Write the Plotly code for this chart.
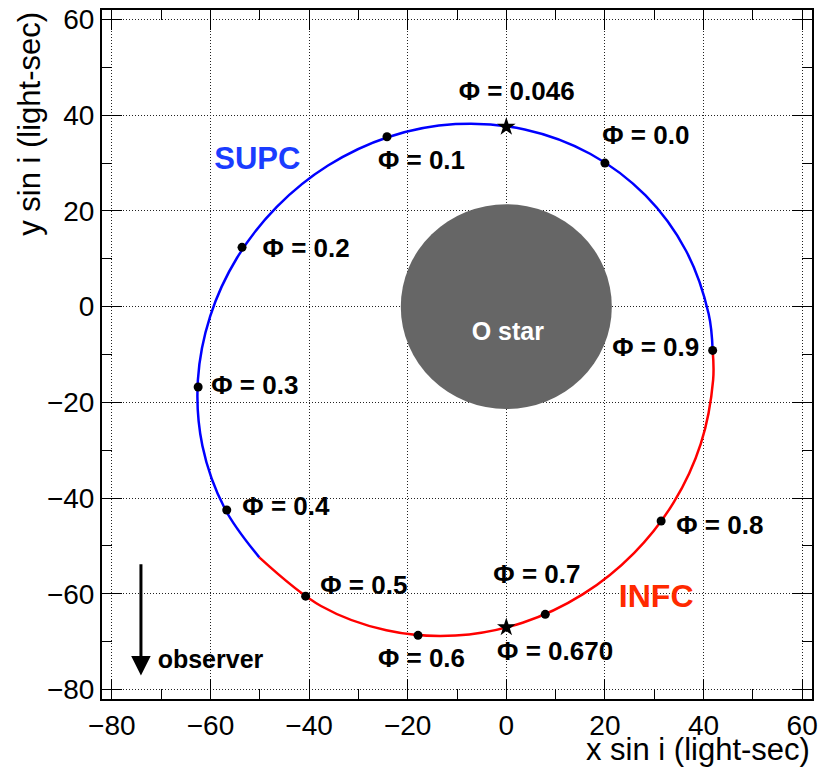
import plotly.graph_objects as go

# ---- data ----
phase_labels = ["Φ = 0.0", "Φ = 0.1", "Φ = 0.2", "Φ = 0.3", "Φ = 0.4", "Φ = 0.5",
                "Φ = 0.6", "Φ = 0.7", "Φ = 0.8", "Φ = 0.9"]
phase_x = [20.0, -24.2, -53.6, -62.5, -56.7, -40.7, -17.9, 7.9, 31.4, 41.85]
phase_y = [30.0, 35.5, 12.4, -16.8, -42.5, -60.5, -68.7, -64.3, -44.8, -9.15]
phase_lx = [28.3, -17.2, -40.6, -51.0, -44.7, -28.9, -17.2, 6.2, 43.3, 30.3]
phase_ly = [35.4, 30.2, 11.7, -16.8, -42.1, -58.8, -73.9, -56.3, -46.1, -9.0]

conj_labels = ["Φ = 0.046", "Φ = 0.670"]
conj_x = [0.0, 0.0]
conj_y = [37.6, -67.0]
conj_lx = [2.1, 9.9]
conj_ly = [44.5, -72.5]

# orbit, superior-conjunction half (blue)
supc_x = [41.85, 41.04, 36.45, 28.24, 16.99, 3.73, -10.3, -23.9, -36.16, -46.5,
          -54.58, -60.05, -62.55, -61.64, -57.05, -50.1]
supc_y = [-9.15, -1.54, 11.69, 23.24, 31.96, 37.04, 38.15, 35.46, 29.49, 20.9,
          10.27, -1.97, -15.3, -29.06, -42.29, -52.4]
# orbit, inferior-conjunction half (red)
infc_x = [-50.1, -37.59, -24.33, -10.3, 3.3, 15.56, 25.9, 33.98, 39.45, 41.95, 41.85]
infc_y = [-52.4, -62.56, -67.64, -68.75, -66.06, -60.09, -51.5, -40.87, -28.63, -15.3, -9.15]

ostar_radius = 21.4

FONT = "Liberation Sans, Arial, Helvetica, sans-serif"

fig = go.Figure()

# O star disc
fig.add_shape(type="circle", xref="x", yref="y",
              x0=-ostar_radius, x1=ostar_radius, y0=-ostar_radius, y1=ostar_radius,
              fillcolor="#666666", line=dict(color="#666666", width=0), layer="between")

fig.add_trace(go.Scatter(x=supc_x, y=supc_y, mode="lines",
                         line=dict(color="#0000ff", width=2.5, shape="spline", smoothing=1.0),
                         hoverinfo="skip", showlegend=False))
fig.add_trace(go.Scatter(x=infc_x, y=infc_y, mode="lines",
                         line=dict(color="#ff0000", width=2.5, shape="spline", smoothing=1.0),
                         hoverinfo="skip", showlegend=False))

fig.add_trace(go.Scatter(x=phase_x, y=phase_y, mode="markers",
                         marker=dict(color="black", size=9, symbol="circle"),
                         showlegend=False))
fig.add_trace(go.Scatter(x=conj_x, y=conj_y, mode="markers",
                         marker=dict(color="black", size=14, symbol="star"),
                         showlegend=False))

fig.add_trace(go.Scatter(x=phase_lx + conj_lx, y=phase_ly + conj_ly,
                         text=phase_labels + conj_labels, mode="text",
                         textfont=dict(family=FONT, size=26, color="black", weight="bold"),
                         showlegend=False))

fig.add_trace(go.Scatter(x=[-50.5, 30.4, 0.3, -60.0], y=[30.4, -61.1, -5.7, -74.3],
                         text=["SUPC", "INFC", "O star", "observer"], mode="text",
                         textfont=dict(family=FONT, size=[31, 32, 25, 25],
                                       color=["#1a3cff", "#ff2a00", "white", "black"],
                                       weight="bold"),
                         showlegend=False))

# observer arrow
fig.add_annotation(x=-74.1, y=-77.1, ax=-74.1, ay=-53.5, xref="x", yref="y",
                   axref="x", ayref="y", showarrow=True, arrowhead=2, arrowsize=1.3,
                   arrowwidth=3, arrowcolor="black", text="")

axis_common = dict(
    showline=True, linecolor="black", linewidth=2, mirror="allticks",
    ticks="inside", ticklen=20, tickwidth=1, tickcolor="black",
    showgrid=True, gridcolor="#222222", gridwidth=1, griddash="1px,2px",
    zeroline=False, dtick=20, automargin=False,
    tickfont=dict(family=FONT, size=28, color="black"),
    minor=dict(ticks="inside", ticklen=10, dtick=10, tickcolor="black", showgrid=False),
)

fig.update_xaxes(range=[-82, 62], tick0=-80, **axis_common)
fig.update_yaxes(range=[-82, 62], tick0=-80, **axis_common)

fig.add_annotation(text="x sin i (light-sec)", xref="paper", yref="paper",
                   x=1.0, y=-0.073, xanchor="right", yanchor="middle",
                   showarrow=False, font=dict(family=FONT, size=31, color="black"))
fig.add_annotation(text="y sin i (light-sec)", xref="paper", yref="paper",
                   x=-0.103, y=1.0, xanchor="center", yanchor="top", textangle=-90,
                   showarrow=False, font=dict(family=FONT, size=31, color="black"))

fig.update_layout(width=818, height=768,
                  margin=dict(l=102, r=6, t=10, b=69),
                  paper_bgcolor="white", plot_bgcolor="white")

fig.write_html("out.html", config={"displayModeBar": False},
               post_script="document.body.style.margin='0';")
